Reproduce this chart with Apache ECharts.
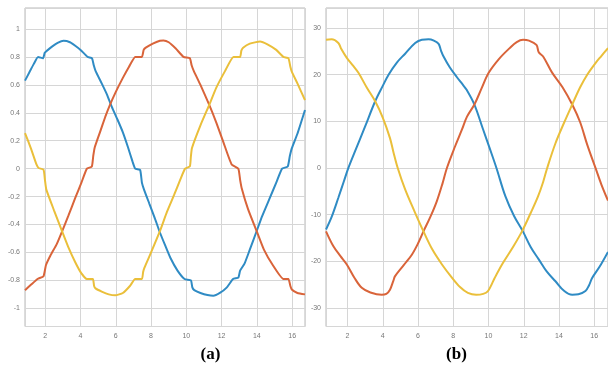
<!DOCTYPE html>
<html>
<head>
<meta charset="utf-8">
<script src="https://cdn.jsdelivr.net/npm/echarts@6/dist/echarts.min.js"></script>
<style>html,body{margin:0;padding:0;background:#fff}#c{width:608px;height:367px}</style>
</head>
<body>
<div id="c"></div>
<script>
// Panel (a): normalized three-phase waveforms [x, y]
const leftBlue = [[0.85,0.63],[1.1,0.69],[1.35,0.75],[1.59,0.80],[1.87,0.79],[1.97,0.83],[2.1,0.845],[2.4,0.875],[2.7,0.90],[3.04,0.915],[3.4,0.905],[3.7,0.88],[4.0,0.85],[4.4,0.80],[4.65,0.79],[4.75,0.74],[4.85,0.70],[5.2,0.61],[5.5,0.53],[5.78,0.44],[6.1,0.35],[6.4,0.26],[6.7,0.15],[6.95,0.05],[7.1,0.0],[7.38,-0.01],[7.48,-0.1],[7.6,-0.15],[7.9,-0.25],[8.2,-0.35],[8.48,-0.45],[8.8,-0.55],[9.1,-0.64],[9.5,-0.73],[9.9,-0.79],[10.26,-0.80],[10.34,-0.85],[10.45,-0.87],[10.8,-0.89],[11.2,-0.905],[11.53,-0.91],[11.9,-0.89],[12.3,-0.85],[12.65,-0.79],[12.95,-0.78],[13.05,-0.73],[13.3,-0.68],[13.6,-0.58],[13.98,-0.45],[14.3,-0.34],[14.7,-0.22],[15.1,-0.1],[15.43,0.0],[15.75,0.015],[15.87,0.09],[15.98,0.145],[16.3,0.25],[16.73,0.42]];
const leftRed = [[0.85,-0.87],[1.2,-0.83],[1.56,-0.79],[1.9,-0.77],[2.04,-0.69],[2.3,-0.62],[2.65,-0.54],[2.95,-0.45],[3.3,-0.34],[3.7,-0.21],[4.05,-0.1],[4.36,0.0],[4.64,0.015],[4.72,0.09],[4.8,0.15],[5.1,0.26],[5.4,0.37],[5.68,0.46],[6.0,0.55],[6.4,0.65],[6.75,0.73],[7.1,0.80],[7.48,0.80],[7.58,0.85],[7.7,0.866],[8.1,0.895],[8.5,0.915],[8.7,0.917],[9.0,0.905],[9.4,0.86],[9.84,0.80],[10.2,0.79],[10.3,0.74],[10.42,0.70],[10.8,0.60],[11.3,0.457],[11.7,0.33],[12.1,0.19],[12.57,0.03],[12.95,0.0],[13.05,-0.08],[13.14,-0.14],[13.5,-0.29],[13.99,-0.448],[14.4,-0.58],[14.9,-0.69],[15.5,-0.79],[15.79,-0.79],[15.9,-0.84],[15.98,-0.865],[16.3,-0.89],[16.73,-0.90]];
const leftYellow = [[0.85,0.255],[1.2,0.14],[1.5,0.03],[1.62,0.005],[1.9,-0.007],[1.98,-0.08],[2.06,-0.15],[2.5,-0.30],[2.95,-0.448],[3.3,-0.56],[3.7,-0.67],[4.05,-0.75],[4.36,-0.79],[4.7,-0.79],[4.77,-0.84],[4.85,-0.857],[5.2,-0.88],[5.6,-0.90],[5.97,-0.907],[6.4,-0.89],[6.8,-0.84],[7.1,-0.79],[7.48,-0.79],[7.55,-0.74],[7.62,-0.71],[8.0,-0.60],[8.5,-0.448],[8.9,-0.31],[9.3,-0.19],[9.65,-0.08],[9.93,0.0],[10.2,0.016],[10.26,0.09],[10.32,0.148],[10.8,0.31],[11.3,0.457],[11.7,0.58],[12.2,0.70],[12.67,0.80],[13.05,0.80],[13.12,0.845],[13.22,0.866],[13.6,0.895],[14.18,0.91],[14.6,0.89],[15.1,0.85],[15.5,0.80],[15.79,0.79],[15.9,0.73],[15.98,0.695],[16.3,0.61],[16.73,0.49]];

// Panel (b): phase currents [x, y]
const rightBlue = [[0.78,-13.2],[1.1,-10.5],[1.48,-6.4],[1.8,-2.8],[2.05,0],[2.43,3.6],[3.0,8.9],[3.57,14.3],[4.0,17.6],[4.33,20.0],[4.8,22.6],[5.27,24.5],[5.84,26.8],[6.22,27.5],[6.6,27.6],[6.9,27.3],[7.17,26.6],[7.3,25.2],[7.45,23.9],[7.8,21.6],[8.2,19.5],[8.55,17.8],[8.77,16.7],[9.2,13.6],[9.69,8.3],[10.07,4.2],[10.45,0],[10.95,-6.0],[11.45,-10.3],[11.95,-13.6],[12.4,-17.0],[12.85,-19.6],[13.3,-22.2],[13.8,-24.3],[14.3,-26.4],[14.75,-27.2],[15.1,-27.1],[15.5,-26.4],[15.7,-25.2],[15.88,-23.6],[16.3,-21.2],[16.78,-18.0]];
const rightRed = [[0.78,-13.6],[1.2,-16.8],[1.6,-18.9],[1.96,-20.7],[2.4,-23.6],[2.81,-25.7],[3.3,-26.7],[3.94,-27.2],[4.2,-27.0],[4.41,-26.1],[4.6,-24.2],[4.7,-23.2],[5.2,-20.8],[5.65,-18.6],[6.0,-16.2],[6.31,-13.6],[6.7,-10.5],[7.07,-7.1],[7.4,-3.2],[7.64,0],[8.1,4.6],[8.49,8.2],[8.78,11.0],[9.2,13.6],[9.6,17.0],[10.01,20.4],[10.6,23.4],[11.2,25.7],[11.6,27.0],[11.96,27.5],[12.3,27.3],[12.72,26.4],[12.85,24.8],[13.1,23.9],[13.6,20.5],[14.2,17.3],[14.75,13.6],[15.2,9.8],[15.6,5.0],[16.07,0],[16.4,-3.5],[16.78,-7.0]];
const rightYellow = [[0.78,27.5],[1.1,27.6],[1.48,26.8],[1.65,25.5],[1.96,23.6],[2.3,22.0],[2.62,20.4],[3.1,17.2],[3.57,14.3],[4.0,10.8],[4.41,6.4],[4.6,3.5],[4.85,0],[5.27,-4.6],[5.8,-9.3],[6.31,-13.6],[6.8,-17.4],[7.36,-20.7],[7.9,-23.4],[8.4,-25.6],[8.83,-26.8],[9.3,-27.2],[9.7,-27.0],[9.97,-26.4],[10.2,-24.8],[10.35,-23.6],[10.8,-20.5],[11.4,-16.9],[11.9,-13.6],[12.4,-9.6],[12.81,-6.1],[13.1,-3.0],[13.33,0],[13.8,5.3],[14.3,9.8],[14.75,13.6],[15.2,17.3],[15.6,20.0],[16.07,22.5],[16.4,24.0],[16.78,25.7]];

const panelLabels = ['(a)', '(b)'];
const colors = ['#2f8bc4', '#d9643a', '#eabf3a'];

const chart = echarts.init(document.getElementById('c'), null, {renderer: 'canvas'});
const labelStyle = {fontSize: 7, color: '#777', fontFamily: 'Liberation Sans, Arial, sans-serif', showMinLabel: false, showMaxLabel: false};
const gridLine = {show: true, lineStyle: {color: '#d6d6d6', width: 1}};
function xAx(gi, min, max) {
  return {type: 'value', gridIndex: gi, min: min, max: max, minInterval: 2, maxInterval: 2,
    axisLine: {show: false}, axisTick: {show: false}, splitLine: gridLine,
    axisLabel: Object.assign({margin: 6}, labelStyle)};
}
function yAx(gi, min, max, iv) {
  return {type: 'value', gridIndex: gi, min: min, max: max, minInterval: iv, maxInterval: iv,
    axisLine: {show: false}, axisTick: {show: false}, splitLine: gridLine,
    axisLabel: Object.assign({margin: 5}, labelStyle)};
}
function line(gi, data, c, sm) {
  return {type: 'line', xAxisIndex: gi, yAxisIndex: gi, data: data, showSymbol: false, symbol: 'none',
    smooth: sm, lineStyle: {color: c, width: 2}, clip: true, animation: false};
}
chart.setOption({
  animation: false,
  backgroundColor: '#fff',
  grid: [
    {left: 25, top: 8, width: 280, height: 318.5, show: true, borderColor: '#b8b8b8', borderWidth: 1},
    {left: 326, top: 8, width: 282, height: 318.5, show: true, borderColor: '#b8b8b8', borderWidth: 1}
  ],
  xAxis: [xAx(0, 0.85, 16.73), xAx(1, 0.78, 16.78)],
  yAxis: [yAx(0, -1.13, 1.15, 0.2), yAx(1, -34, 34.3, 10)],
  series: [
    line(0, leftBlue, colors[0], 0.15), line(0, leftRed, colors[1], 0.15), line(0, leftYellow, colors[2], 0.15),
    line(1, rightBlue, colors[0], 0.35), line(1, rightRed, colors[1], 0.35), line(1, rightYellow, colors[2], 0.35)
  ],
  graphic: [
    {type: 'text', x: 210.5, y: 355, style: {text: panelLabels[0], font: 'bold 17px "Liberation Serif", "Times New Roman", serif', fill: '#000', align: 'center', verticalAlign: 'middle'}},
    {type: 'text', x: 456.5, y: 355, style: {text: panelLabels[1], font: 'bold 17px "Liberation Serif", "Times New Roman", serif', fill: '#000', align: 'center', verticalAlign: 'middle'}}
  ]
});
</script>
</body>
</html>
